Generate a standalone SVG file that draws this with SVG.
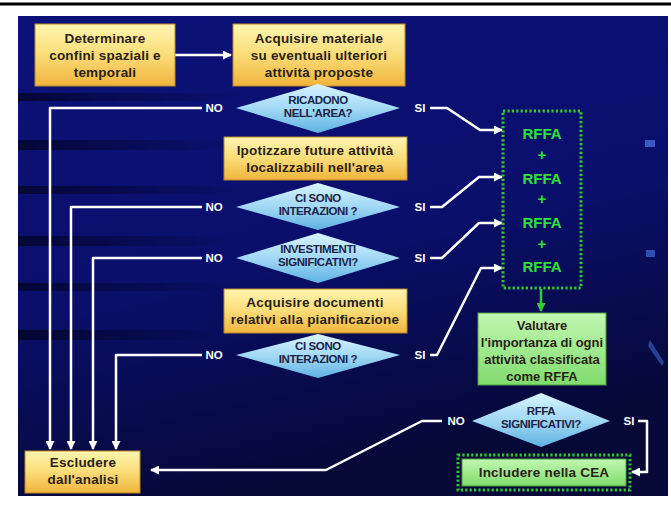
<svg xmlns="http://www.w3.org/2000/svg" width="671" height="508" viewBox="0 0 671 508">
<defs>
<linearGradient id="bg" x1="0" y1="0" x2="0.3" y2="1">
<stop offset="0" stop-color="#0c1178"/>
<stop offset="0.55" stop-color="#0a0f6c"/>
<stop offset="1" stop-color="#060838"/>
</linearGradient>
<linearGradient id="band" x1="0" y1="0" x2="1" y2="0">
<stop offset="0" stop-color="#000010" stop-opacity="0.6"/>
<stop offset="1" stop-color="#000010" stop-opacity="0"/>
</linearGradient>
<linearGradient id="yel" x1="0" y1="0" x2="0" y2="1">
<stop offset="0" stop-color="#fff6b0"/>
<stop offset="0.5" stop-color="#fbdc78"/>
<stop offset="1" stop-color="#f0b43c"/>
</linearGradient>
<linearGradient id="dia" x1="0" y1="0" x2="0" y2="1">
<stop offset="0" stop-color="#d8f4ff"/>
<stop offset="0.5" stop-color="#a2d8f6"/>
<stop offset="1" stop-color="#5fb2e2"/>
</linearGradient>
<linearGradient id="grn" x1="0" y1="0" x2="0" y2="1">
<stop offset="0" stop-color="#c2f7b2"/>
<stop offset="1" stop-color="#7fdc6c"/>
</linearGradient>
<marker id="ah" markerUnits="userSpaceOnUse" markerWidth="9" markerHeight="9" refX="8" refY="4.5" orient="auto">
<path d="M0,0 L9,4.5 L0,9 z" fill="#ffffff"/>
</marker>
<marker id="ahg" markerUnits="userSpaceOnUse" markerWidth="9" markerHeight="9" refX="8" refY="4.5" orient="auto">
<path d="M0,0 L9,4.5 L0,9 z" fill="#33cc33"/>
</marker>
<style>
.box{fill:url(#yel);stroke:#b88a2a;stroke-width:1}
.gbox{fill:url(#grn);stroke:#4c9a3c;stroke-width:1}
.dia{fill:url(#dia);stroke:none}
.t{font-family:"Liberation Sans",Arial,sans-serif;font-weight:bold;font-size:13.5px;fill:#2a2216;text-anchor:middle;letter-spacing:0.2px}
.tg{font-family:"Liberation Sans",Arial,sans-serif;font-weight:bold;font-size:13px;fill:#2a2216;text-anchor:middle}
.dt{font-family:"Liberation Sans",Arial,sans-serif;font-weight:bold;font-size:11.5px;fill:#1b2448;text-anchor:middle;letter-spacing:-0.4px}
.lab{font-family:"Liberation Sans",Arial,sans-serif;font-weight:bold;font-size:11.5px;fill:#ffffff;text-anchor:middle}
.rf{font-family:"Liberation Sans",Arial,sans-serif;font-weight:bold;font-size:15px;fill:#2ee03a;text-anchor:middle}
.dot{fill:none;stroke:#2fc82f;stroke-width:3;stroke-dasharray:2.2 2.2}
.c{fill:none;stroke:#ffffff;stroke-width:2.5;stroke-linejoin:round}
</style>
</defs>

<rect x="0" y="0" width="671" height="508" fill="#ffffff"/>
<rect x="0" y="2.5" width="671" height="3" fill="#000000"/>
<rect x="18" y="16" width="650" height="480" fill="url(#bg)"/>
<g id="bg-deco">
<rect x="18" y="93" width="230" height="8" fill="url(#band)"/>
<rect x="18" y="140" width="220" height="10" fill="url(#band)"/>
<rect x="18" y="186" width="230" height="8" fill="url(#band)"/>
<rect x="18" y="236" width="220" height="10" fill="url(#band)"/>
<rect x="18" y="283" width="210" height="8" fill="url(#band)"/>
<rect x="18" y="330" width="200" height="10" fill="url(#band)"/>
<rect x="645" y="140" width="10" height="7" fill="#4a7ae8" opacity="0.7"/>
<rect x="646" y="250" width="9" height="7" fill="#4a7ae8" opacity="0.6"/>
<path d="M650,340 L664,362 L662,366 L648,346 z" fill="#4a7ae8" opacity="0.5"/>
</g>

<g id="connectors">
<path class="c" d="M175,55 H231" marker-end="url(#ah)"/>
<path class="c" d="M202,108 H50 V449" marker-end="url(#ah)"/>
<path class="c" d="M202,207 H71 V449" marker-end="url(#ah)"/>
<path class="c" d="M202,258 H93 V449" marker-end="url(#ah)"/>
<path class="c" d="M202,355 H116 V449" marker-end="url(#ah)"/>
<path class="c" d="M430,108 H447 L480,130 H502" marker-end="url(#ah)"/>
<path class="c" d="M430,207 H442 L479,177 H502" marker-end="url(#ah)"/>
<path class="c" d="M430,258 H442 L479,223 H502" marker-end="url(#ah)"/>
<path class="c" d="M430,355 H437 L481,268 H502" marker-end="url(#ah)"/>
<path d="M541,289 V311" fill="none" stroke="#33cc33" stroke-width="2.5" marker-end="url(#ahg)"/>
<path class="c" d="M442,421 H422 L326,470 H151" marker-end="url(#ah)"/>
<path class="c" d="M638,421 H647 V472 H632" marker-end="url(#ah)"/>
</g>

<g id="n-determinare">
<rect class="box" x="35" y="24" width="140" height="62"/>
<text class="t" x="105" y="43">Determinare</text>
<text class="t" x="105" y="60">confini spaziali e</text>
<text class="t" x="105" y="77">temporali</text>
</g>

<g id="n-acquisire-materiale">
<rect class="box" x="233" y="24" width="172" height="62"/>
<text class="t" x="319" y="43">Acquisire materiale</text>
<text class="t" x="319" y="60">su eventuali ulteriori</text>
<text class="t" x="319" y="77">attività proposte</text>
</g>

<g id="d-ricadono">
<polygon class="dia" points="236,108 318,84 400,108 318,133"/>
<text class="dt" x="318" y="104">RICADONO</text>
<text class="dt" x="318" y="117">NELL'AREA?</text>
<text class="lab" x="214" y="112">NO</text>
<text class="lab" x="420" y="112">SI</text>
</g>

<g id="n-ipotizzare">
<rect class="box" x="224" y="137" width="183" height="43"/>
<text class="t" x="315" y="155">Ipotizzare future attività</text>
<text class="t" x="315" y="172">localizzabili nell'area</text>
</g>

<g id="d-interazioni1">
<polygon class="dia" points="236,207 318,183 400,207 318,230"/>
<text class="dt" x="318" y="202">CI SONO</text>
<text class="dt" x="318" y="215">INTERAZIONI ?</text>
<text class="lab" x="214" y="211">NO</text>
<text class="lab" x="420" y="211">SI</text>
</g>

<g id="d-investimenti">
<polygon class="dia" points="236,258 318,233 400,258 318,283"/>
<text class="dt" x="318" y="253">INVESTIMENTI</text>
<text class="dt" x="318" y="266">SIGNIFICATIVI?</text>
<text class="lab" x="214" y="262">NO</text>
<text class="lab" x="420" y="262">SI</text>
</g>

<g id="n-acquisire-documenti">
<rect class="box" x="224" y="289" width="183" height="44"/>
<text class="t" x="315" y="307">Acquisire documenti</text>
<text class="t" x="315" y="324">relativi alla pianificazione</text>
</g>

<g id="d-interazioni2">
<polygon class="dia" points="236,355 318,334 400,355 318,378"/>
<text class="dt" x="318" y="350">CI SONO</text>
<text class="dt" x="318" y="363">INTERAZIONI ?</text>
<text class="lab" x="214" y="359">NO</text>
<text class="lab" x="420" y="359">SI</text>
</g>

<g id="n-rffa">
<rect class="dot" x="503" y="111" width="78" height="177"/>
<text class="rf" x="542" y="139">RFFA</text>
<text class="rf" x="542" y="160">+</text>
<text class="rf" x="542" y="184">RFFA</text>
<text class="rf" x="542" y="204">+</text>
<text class="rf" x="542" y="228">RFFA</text>
<text class="rf" x="542" y="249">+</text>
<text class="rf" x="542" y="272">RFFA</text>
</g>

<g id="n-valutare">
<rect class="gbox" x="478" y="313" width="128" height="72"/>
<text class="tg" x="542" y="330">Valutare</text>
<text class="tg" x="542" y="347">l'importanza di ogni</text>
<text class="tg" x="542" y="364">attività classificata</text>
<text class="tg" x="542" y="381">come RFFA</text>
</g>

<g id="d-rffa-significativi">
<polygon class="dia" points="472,421 541,393 610,421 541,447"/>
<text class="dt" x="541" y="415">RFFA</text>
<text class="dt" x="541" y="428">SIGNIFICATIVI?</text>
<text class="lab" x="456" y="425">NO</text>
<text class="lab" x="629" y="425">SI</text>
</g>

<g id="n-escludere">
<rect class="box" x="25" y="451" width="115" height="42"/>
<text class="t" x="83" y="467">Escludere</text>
<text class="t" x="83" y="484">dall'analisi</text>
</g>

<g id="n-includere">
<rect class="dot" x="458" y="455" width="172" height="35"/>
<rect class="gbox" x="462" y="459" width="164" height="27" stroke="none"/>
<text class="t" x="544" y="477">Includere nella CEA</text>
</g>
</svg>
